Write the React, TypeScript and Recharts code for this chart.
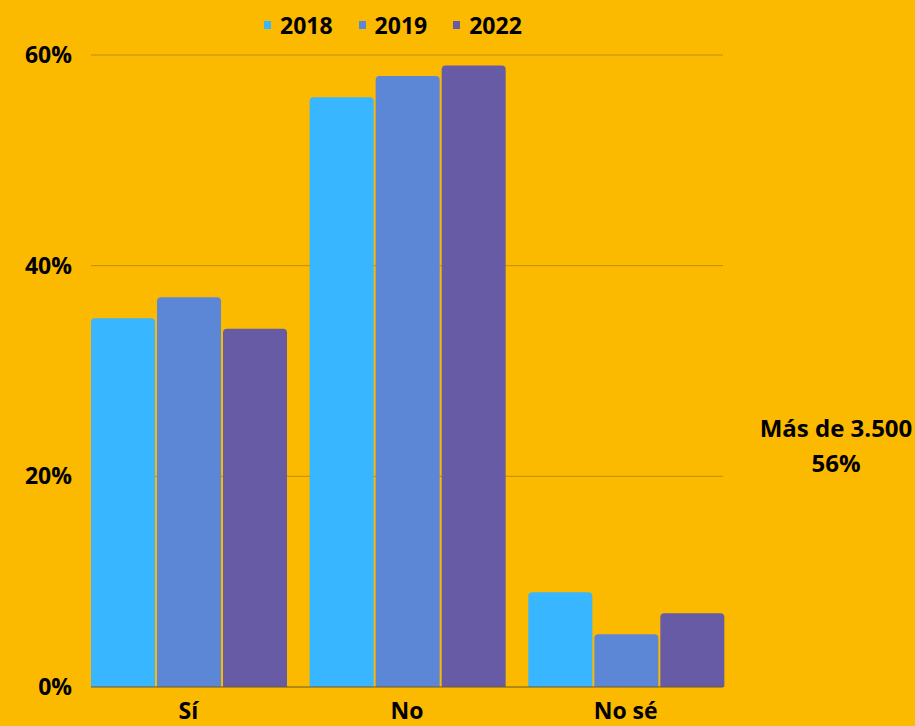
import { BarChart, Bar, XAxis, YAxis, CartesianGrid } from "recharts";

const categories = ["Sí", "No", "No sé"];
const values2018 = [35, 56, 9];
const values2019 = [37, 58, 5];
const values2022 = [34, 59, 7];
const yTicks = [0, 20, 40, 60];

const series = [
  { key: "y2018", name: "2018", color: "#38b6ff" },
  { key: "y2019", name: "2019", color: "#5c87d6" },
  { key: "y2022", name: "2022", color: "#675ba5" },
];

const data = categories.map((name, i) => ({
  name,
  y2018: values2018[i],
  y2019: values2019[i],
  y2022: values2022[i],
}));

const font = "'Open Sans', 'Noto Sans', sans-serif";

export default function App() {
  return (
    <div style={{ position: "relative", width: 915, height: 726, background: "#fbb900", fontFamily: font }}>
      <style>{`body{margin:0}`}</style>

      {/* legend */}
      <div
        style={{
          position: "absolute",
          top: 9,
          left: 264,
          display: "flex",
          alignItems: "center",
          fontSize: 23,
          fontWeight: 700,
          color: "#000",
          lineHeight: "32px",
        }}
      >
        {series.map((s) => (
          <div key={s.key} style={{ display: "flex", alignItems: "center", marginRight: 26 }}>
            <span style={{ width: 7, height: 8, background: s.color, display: "inline-block", marginRight: 9 }} />
            <span>{s.name}</span>
          </div>
        ))}
      </div>

      <BarChart
        width={915}
        height={726}
        data={data}
        margin={{ top: 55, right: 192, bottom: 0, left: 0 }}
        barGap={2}
        barCategoryGap={12}
      >
        <CartesianGrid vertical={false} stroke="#c08e06" horizontalValues={[20, 40, 60]} />
        <XAxis
          dataKey="name"
          height={39}
          padding={{ left: -12, right: -12 }}
          axisLine={{ stroke: "#6b5a2c" }}
          tickLine={false}
          tickSize={0}
          tickMargin={16}
          tick={{ fill: "#000", fontSize: 23, fontWeight: 700, fontFamily: font }}
        />
        <YAxis
          width={91}
          domain={[0, 60]}
          ticks={yTicks}
          tickFormatter={(v) => `${v}%`}
          axisLine={false}
          tickLine={false}
          tickSize={0}
          tickMargin={19}
          tick={{ fill: "#000", fontSize: 23, fontWeight: 700, fontFamily: font }}
        />
        {series.map((s) => (
          <Bar
            key={s.key}
            dataKey={s.key}
            name={s.name}
            fill={s.color}
            radius={[4, 4, 0, 0]}
            isAnimationActive={false}
          />
        ))}
      </BarChart>

      {/* annotation */}
      <div
        style={{
          position: "absolute",
          left: 750,
          top: 410,
          width: 172,
          textAlign: "center",
          fontSize: 24,
          fontWeight: 700,
          lineHeight: "35px",
          color: "#000",
        }}
      >
        Más de 3.500
        <br />
        56%
      </div>
    </div>
  );
}
